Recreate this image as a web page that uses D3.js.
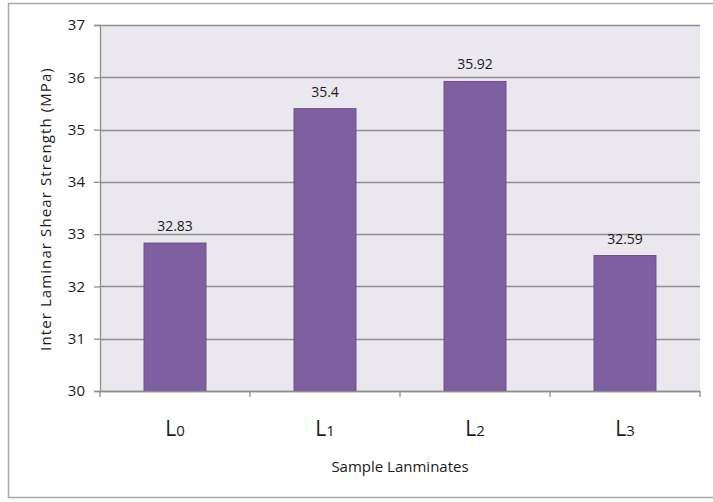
<!DOCTYPE html>
<html>
<head>
<meta charset="utf-8">
<script src="https://cdn.jsdelivr.net/npm/d3@7"></script>
<style>
  html, body { margin: 0; padding: 0; background: #fff; }
  svg { display: block; font-family: "Open Sans", "DejaVu Sans", sans-serif; }
</style>
</head>
<body>
<svg id="chart" width="713" height="502"></svg>
<script>
// Laminate samples and their inter-laminar shear strength (MPa)
const categories = ["L0", "L1", "L2", "L3"];
const strength = [32.83, 35.4, 35.92, 32.59];
const valueLabels = ["32.83", "35.4", "35.92", "32.59"];
const yTicks = [30, 31, 32, 33, 34, 35, 36, 37];

const svg = d3.select("#chart");
const plot = { left: 100, right: 700, top: 25, bottom: 391 };

// outer frame
svg.append("path")
  .attr("d", "M713,3.5 H8.5 V497.5 H713")
  .attr("fill", "none")
  .attr("stroke", "#a8a8a8")
  .attr("stroke-width", 1.5);

const x = d3.scaleBand()
  .domain(categories)
  .range([plot.left, plot.right])
  .paddingInner(0.587)
  .paddingOuter(0.2935);

const y = d3.scaleLinear()
  .domain([30, 37])
  .range([plot.bottom, plot.top]);

// plot background
svg.append("rect")
  .attr("x", plot.left).attr("y", plot.top)
  .attr("width", plot.right - plot.left)
  .attr("height", plot.bottom - plot.top)
  .attr("fill", "#eae8ee");

// horizontal gridlines
svg.append("g").selectAll("line")
  .data(yTicks)
  .join("line")
  .attr("x1", plot.left).attr("x2", plot.right)
  .attr("y1", d => Math.round(y(d)) + 0.5)
  .attr("y2", d => Math.round(y(d)) + 0.5)
  .attr("stroke", "#8e8e8e")
  .attr("stroke-width", 1.3);

// bars
svg.append("g").selectAll("rect")
  .data(categories)
  .join("rect")
  .attr("x", d => x(d))
  .attr("width", x.bandwidth())
  .attr("y", (d, i) => y(strength[i]))
  .attr("height", (d, i) => y(30) - y(strength[i]))
  .attr("fill", "#7e60a0")
  .attr("stroke", "#6a4f8c")
  .attr("stroke-width", 1);

// value labels
svg.append("g").selectAll("text")
  .data(categories)
  .join("text")
  .attr("x", d => x(d) + x.bandwidth() / 2)
  .attr("y", (d, i) => y(strength[i]) - 12)
  .attr("text-anchor", "middle")
  .attr("font-size", 14)
  .attr("fill", "#1a1a1a")
  .text((d, i) => valueLabels[i]);

// y axis
const yAxis = svg.append("g")
  .attr("transform", `translate(${plot.left},0)`)
  .call(d3.axisLeft(y).tickValues(yTicks).tickSize(6).tickPadding(9).tickFormat(d3.format("d")));
yAxis.select(".domain").attr("stroke", "#8e8e8e").attr("stroke-width", 1.3);
yAxis.selectAll(".tick line").attr("stroke", "#8e8e8e").attr("stroke-width", 1.3);
yAxis.selectAll(".tick text").attr("font-size", 15).attr("fill", "#1a1a1a")
  .attr("font-family", "\"Open Sans\", sans-serif");

// x axis: boundaries between categories
const xAxis = svg.append("g")
  .attr("transform", `translate(0,${plot.bottom})`);
xAxis.append("line")
  .attr("x1", plot.left).attr("x2", plot.right)
  .attr("y1", 0.5).attr("y2", 0.5)
  .attr("stroke", "#8e8e8e").attr("stroke-width", 1.3);
const step = x.step();
const bounds = d3.range(categories.length + 1).map(i => plot.left + i * step);
xAxis.selectAll("line.tk")
  .data(bounds)
  .join("line")
  .attr("class", "tk")
  .attr("x1", d => d).attr("x2", d => d)
  .attr("y1", 0).attr("y2", 6)
  .attr("stroke", "#8e8e8e").attr("stroke-width", 1.3);

// category labels with subscript digits
const catText = xAxis.selectAll("text")
  .data(categories)
  .join("text")
  .attr("x", d => x(d) + x.bandwidth() / 2)
  .attr("y", 45)
  .attr("text-anchor", "middle")
  .attr("fill", "#1a1a1a");
catText.append("tspan").attr("font-size", 21).text(d => d[0]);
catText.append("tspan").attr("font-size", 15).text(d => d.slice(1));

// axis titles
svg.append("text")
  .attr("x", 400).attr("y", 472)
  .attr("text-anchor", "middle")
  .attr("font-size", 15)
  .attr("fill", "#1a1a1a")
  .text("Sample Lanminates");

svg.append("text")
  .attr("transform", `translate(51,${(plot.top + plot.bottom) / 2 + 1}) rotate(-90)`)
  .attr("text-anchor", "middle")
  .attr("font-size", 15)
  .attr("letter-spacing", 1.1)
  .attr("fill", "#1a1a1a")
  .text("Inter Laminar Shear Strength (MPa)");
</script>
</body>
</html>
